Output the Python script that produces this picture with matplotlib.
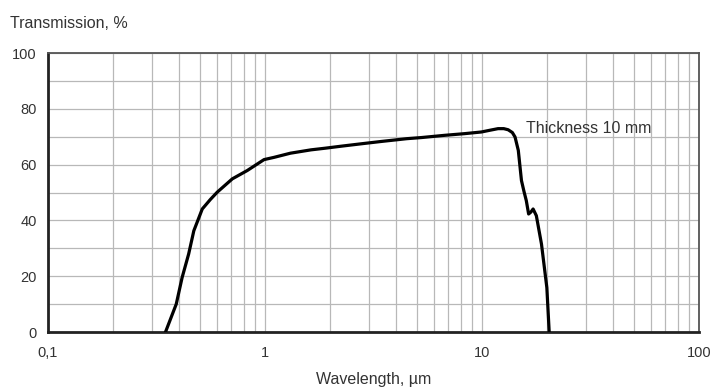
import matplotlib.pyplot as plt
from matplotlib.ticker import FixedLocator, NullFormatter

plt.rcParams['font.family'] = ['Liberation Sans', 'DejaVu Sans']

# Transmission curve
wavelength = [0.348, 0.39, 0.415, 0.445, 0.47, 0.514, 0.56, 0.602, 0.707, 0.829, 0.99,
              1.1, 1.31, 1.63, 1.9, 2.24, 2.8, 3.43, 4.5, 5.25, 6.72, 8.3, 9.93,
              11.0, 11.86, 12.6, 13.2, 13.8, 14.2, 14.7, 15.2, 15.6, 16.0, 16.4,
              16.8, 17.2, 17.8, 18.8, 19.9, 20.4]
transmission = [0, 10, 19.5, 28, 36.3, 44.1, 47.5, 50.1, 54.9, 57.9, 61.8,
                62.6, 64.1, 65.3, 65.9, 66.6, 67.5, 68.3, 69.3, 69.7, 70.5, 71.1, 71.7,
                72.4, 72.9, 72.9, 72.5, 71.5, 69.9, 65.1, 54.3, 50.5, 47.1, 42.3,
                43.0, 44.1, 41.7, 31.5, 15.9, 0]

x_ticks = [0.1, 1, 10, 100]
x_labels = ['0,1', '1', '10', '100']
y_ticks = [0, 20, 40, 60, 80, 100]

fig = plt.figure(figsize=(7.14, 3.9), dpi=100)
ax = fig.add_axes([0.0672, 0.1487, 0.9118, 0.7153])

ax.plot(wavelength, transmission, color='black', lw=2.3, solid_joinstyle='round', zorder=3)

ax.set_xscale('log')
ax.set_xlim(0.1, 100)
ax.set_ylim(0, 100)
ax.set_xticks(x_ticks)
ax.set_xticklabels(x_labels)
ax.xaxis.set_minor_locator(FixedLocator([m * 10.0 ** e for e in (-1, 0, 1) for m in range(2, 10)]))
ax.xaxis.set_minor_formatter(NullFormatter())
ax.set_yticks(y_ticks)
ax.yaxis.set_minor_locator(FixedLocator(range(10, 100, 20)))

ax.grid(True, which='both', color='#b8b8b8', lw=0.9)
ax.set_axisbelow(True)
ax.tick_params(which='both', length=0, labelsize=10.5, colors='#333333', pad=8)
ax.tick_params(axis='x', pad=10)

for side in ('left', 'bottom'):
    ax.spines[side].set_linewidth(2)
    ax.spines[side].set_color('#222222')
for side in ('top', 'right'):
    ax.spines[side].set_linewidth(1.3)
    ax.spines[side].set_color('#555555')

ax.set_xlabel('Wavelength, µm', fontsize=11.5, color='#333333', labelpad=9)
fig.text(0.014, 0.94, 'Transmission, %', fontsize=11.5, color='#333333', va='center')
ax.text(16.0, 73, 'Thickness 10 mm', fontsize=11.5, color='#333333', va='center')

fig.savefig('out.png', dpi=100)
